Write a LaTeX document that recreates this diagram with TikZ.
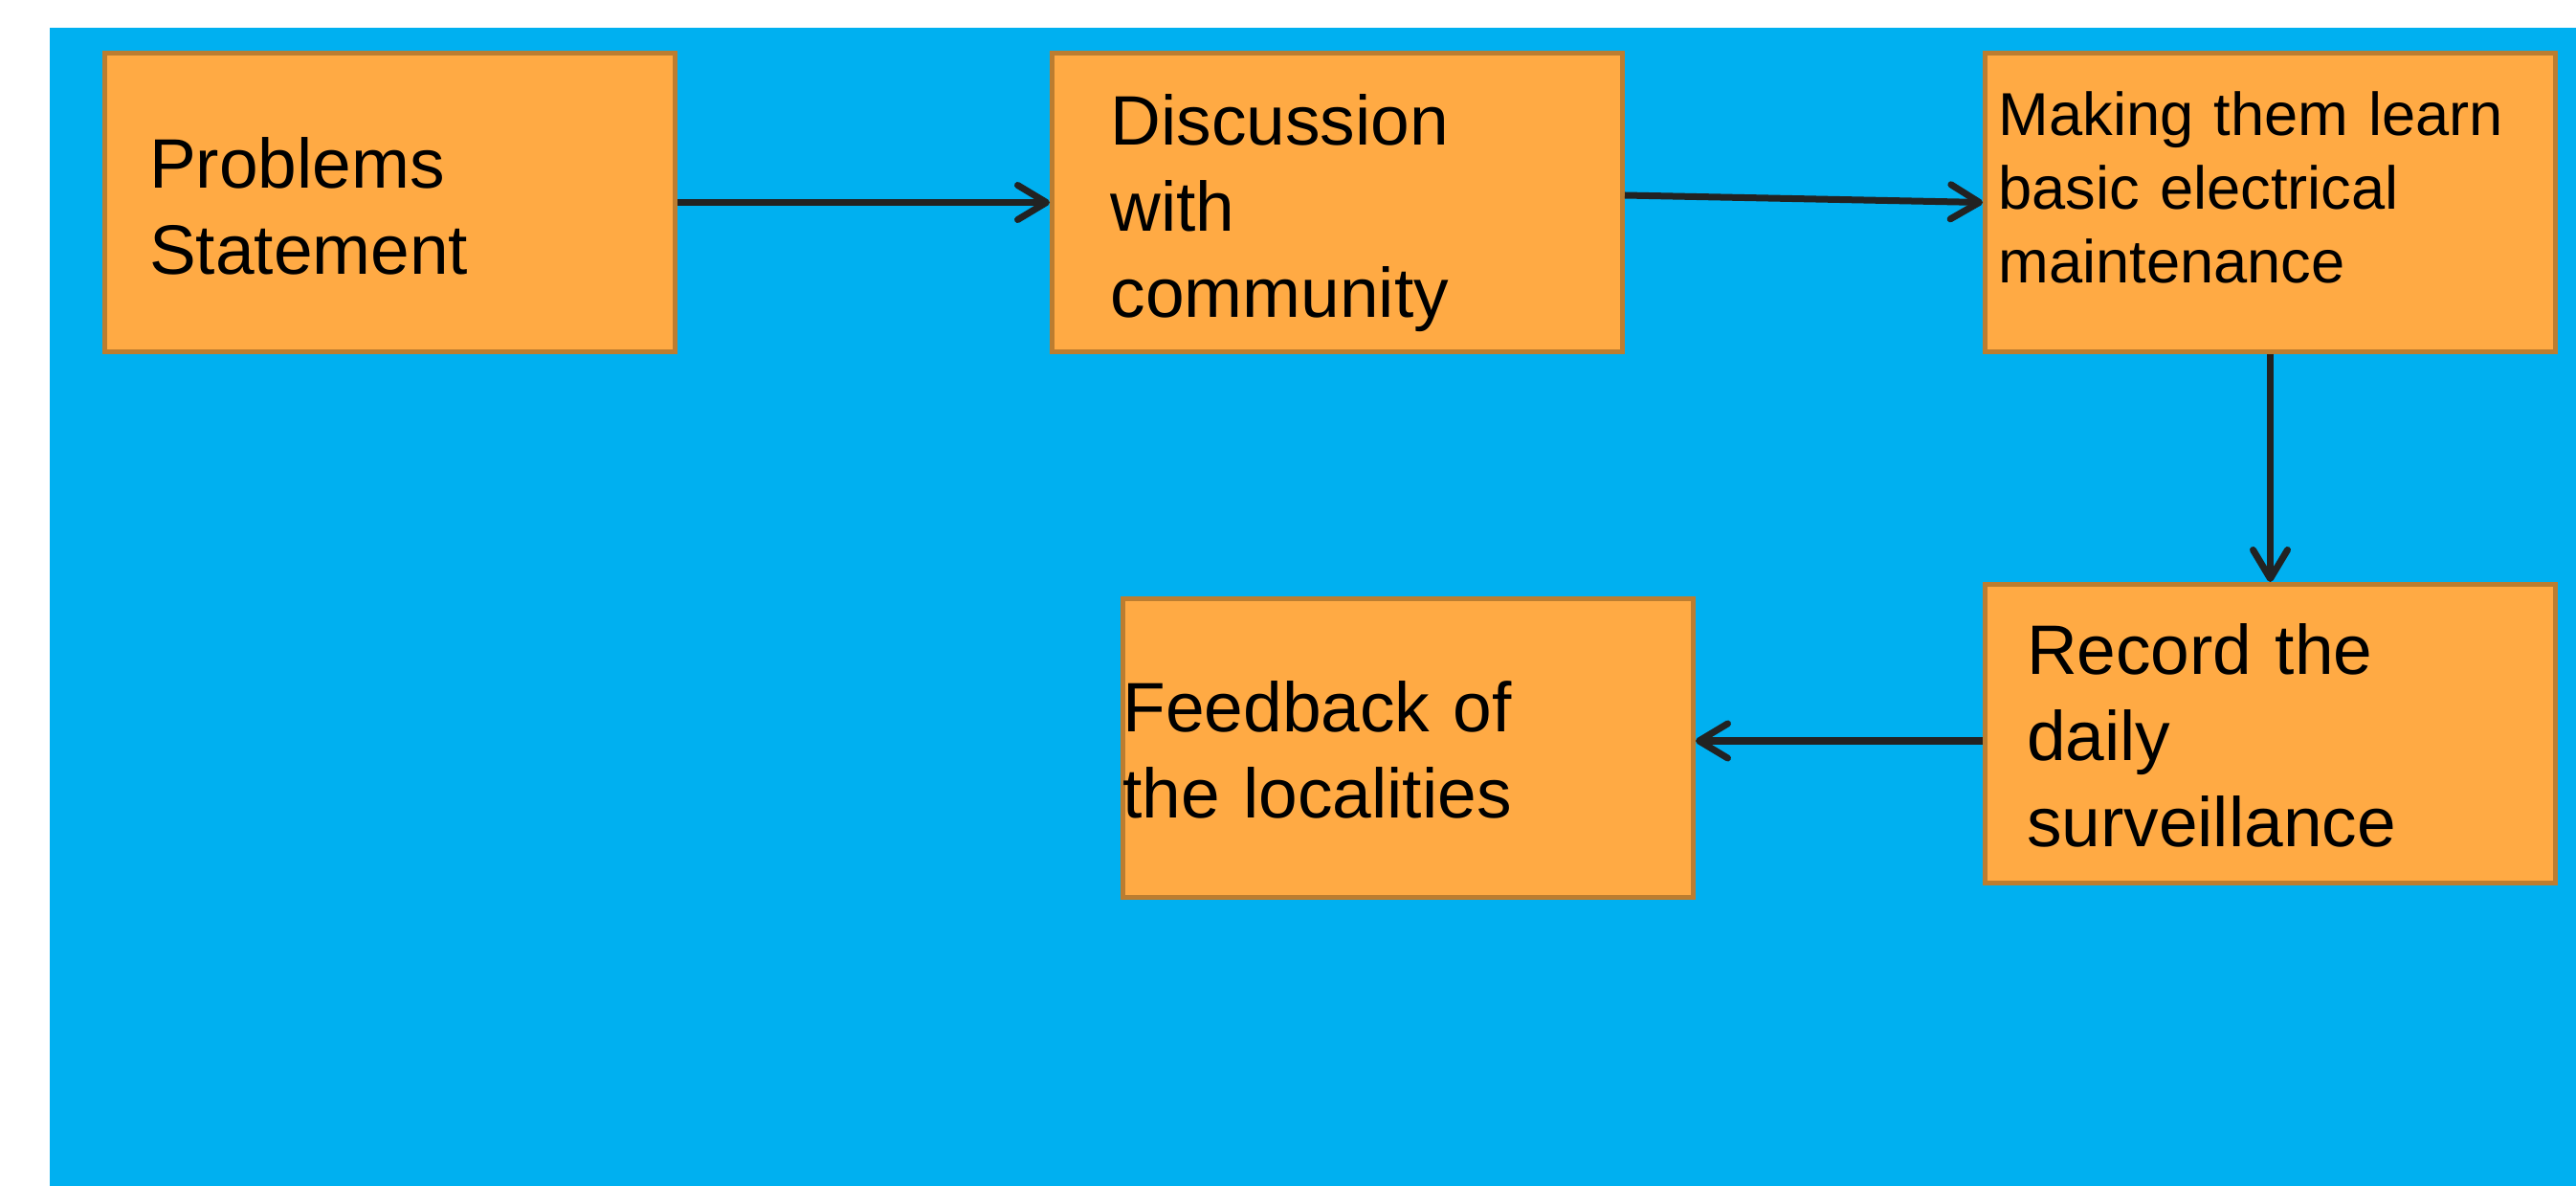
\documentclass[tikz,border=0pt]{standalone}
\usepackage{fontspec}
\setmainfont{Liberation Sans}
\usetikzlibrary{arrows.meta,positioning}
\definecolor{skyblue}{HTML}{00B0F0}
\definecolor{boxfill}{HTML}{FFAA44}
\definecolor{boxline}{HTML}{BC7D30}
\definecolor{arrowgray}{HTML}{222222}

\begin{document}
\begin{tikzpicture}[->,>={Straight Barb[length=3mm,width=3.6mm,round]},
  box/.style={rectangle,draw=boxline,fill=boxfill,line width=0.05cm,
    minimum width=5.96cm,minimum height=3.12cm,inner xsep=0pt,align=left,
    text height=0pt,font=\fontsize{20.8}{25.6}\selectfont},
  link/.style={color=arrowgray,line width=0.07cm}]

  \useasboundingbox (0,0) rectangle (26.92,-12.39);
  \fill[white] (0,0) rectangle (26.92,-12.39);
  \fill[skyblue] (0.52,-0.29) rectangle (26.92,-12.39);

  \node[box,text width=5.03cm,text depth=0.29cm] (prob) at (4.075,-2.115) {Problems\\Statement};
  \node[box,text width=4.74cm,text depth=1.19cm] (disc) [right=3.89cm of prob] {Discussion\\with\\community};
  \node[box,text width=5.68cm,text depth=1.39cm,font=\fontsize{18}{21.8}\selectfont] (learn) [right=3.74cm of disc] {Making them learn\\basic electrical\\maintenance};
  \node[box,text width=5.09cm,text depth=1.23cm] (record) [below=2.38cm of learn] {Record the\\daily\\surveillance};
  \node[box,text width=5.96cm,text depth=0.33cm] (feed) [left=3.00cm of record,yshift=-0.15cm] {Feedback of\\the localities};

  \path[link]
    (prob) edge (disc)
    ([yshift=0.075cm]disc.east) edge (learn.west)
    (learn) edge (record)
    ([yshift=-0.075cm]record.west) edge ([yshift=0.075cm]feed.east);

\end{tikzpicture}
\end{document}
